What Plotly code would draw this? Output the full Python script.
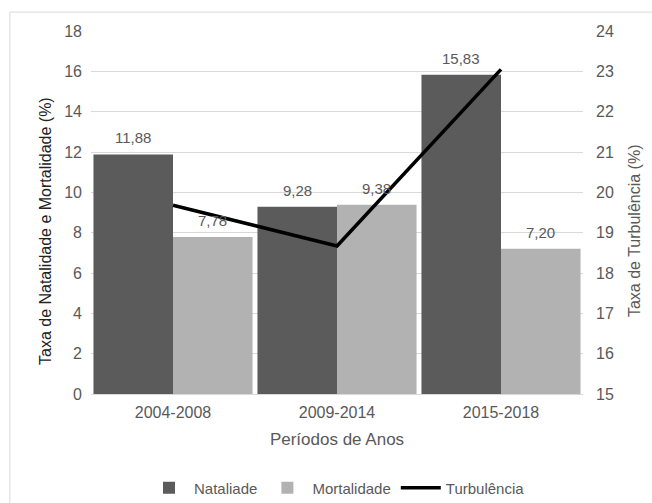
import plotly.graph_objects as go

categories = ["2004-2008", "2009-2014", "2015-2018"]
natalidade = [11.88, 9.28, 15.83]
mortalidade = [7.78, 9.38, 7.20]
turbulencia = [19.68, 18.67, 23.05]

nat_labels = ["11,88", "9,28", "15,83"]
mort_labels = ["7,78", "9,38", "7,20"]

C_NAT = "#5b5b5b"
C_MORT = "#b2b2b2"
GRAY = "#595959"
FONT = "Liberation Sans, Arial, sans-serif"
BARGAP = 0.03

fig = go.Figure()
fig.add_trace(go.Bar(name="Nataliade", x=categories, y=natalidade,
                     marker=dict(color=C_NAT, line=dict(width=0))))
fig.add_trace(go.Bar(name="Mortalidade", x=categories, y=mortalidade,
                     marker=dict(color=C_MORT, line=dict(width=0))))
fig.add_trace(go.Scatter(name="Turbulência", x=categories, y=turbulencia,
                         yaxis="y2", mode="lines",
                         line=dict(color="black", width=3.5)))

# data labels above bars
half = (1 - BARGAP) / 4
annotations = []
for i, (v, t) in enumerate(zip(natalidade, nat_labels)):
    annotations.append(dict(x=i - half, y=v, xref="x", yref="y", text=t,
                            showarrow=False, yanchor="bottom", yshift=6,
                            font=dict(size=15, color=GRAY, family=FONT)))
for i, (v, t) in enumerate(zip(mortalidade, mort_labels)):
    annotations.append(dict(x=i + half, y=v, xref="x", yref="y", text=t,
                            showarrow=False, yanchor="bottom", yshift=6,
                            font=dict(size=15, color=GRAY, family=FONT)))

# axis titles (positioned like the original, slightly below plot centre)
annotations.append(dict(text="Taxa de Natalidade e Mortalidade (%)", textangle=-90,
                        xref="paper", yref="paper", x=-0.0935, y=0.449,
                        xanchor="center", yanchor="middle", showarrow=False,
                        font=dict(size=16, color="#222222", family=FONT)))
annotations.append(dict(text="Taxa de Turbulência (%)", textangle=-90,
                        xref="paper", yref="paper", x=1.1037, y=0.449,
                        xanchor="center", yanchor="middle", showarrow=False,
                        font=dict(size=16, color=GRAY, family=FONT)))

fig.update_layout(
    width=652, height=503,
    margin=dict(l=91, r=69, t=31, b=109, autoexpand=False),
    paper_bgcolor="white", plot_bgcolor="white",
    font=dict(family=FONT, size=15, color=GRAY),
    barmode="group", bargap=BARGAP, bargroupgap=0,
    xaxis=dict(
        title=dict(text="Períodos de Anos", font=dict(size=17, color=GRAY), standoff=12),
        tickfont=dict(size=16, color=GRAY), ticklabelstandoff=4,
        showline=True, linecolor="#d9d9d9", linewidth=1,
        ticks="", showgrid=False, automargin=False,
    ),
    yaxis=dict(
        range=[0, 18], dtick=2, tickfont=dict(size=16, color=GRAY),
        ticklabelstandoff=8,
        showgrid=True, gridcolor="#d9d9d9", gridwidth=1,
        zeroline=False, ticks="", automargin=False,
    ),
    yaxis2=dict(
        range=[15, 24], dtick=1, overlaying="y", side="right",
        ticklabelstandoff=12,
        tickfont=dict(size=16, color=GRAY), showgrid=False, zeroline=False, ticks="",
        automargin=False,
    ),
    legend=dict(orientation="h", x=0.5, xanchor="center",
                yref="container", y=0.03, yanchor="middle",
                font=dict(size=15, color=GRAY), itemwidth=40,
                traceorder="normal"),
    annotations=annotations,
    shapes=[dict(type="rect", xref="paper", yref="paper",
                 x0=-0.165, x1=1.3, y0=-0.4, y1=1.052,
                 fillcolor="rgba(0,0,0,0)",
                 line=dict(color="#d9d9d9", width=1), layer="above")],
)

fig.write_html("out.html", config={"displayModeBar": False},
               post_script="document.body.style.margin='0';document.body.style.padding='0';")
